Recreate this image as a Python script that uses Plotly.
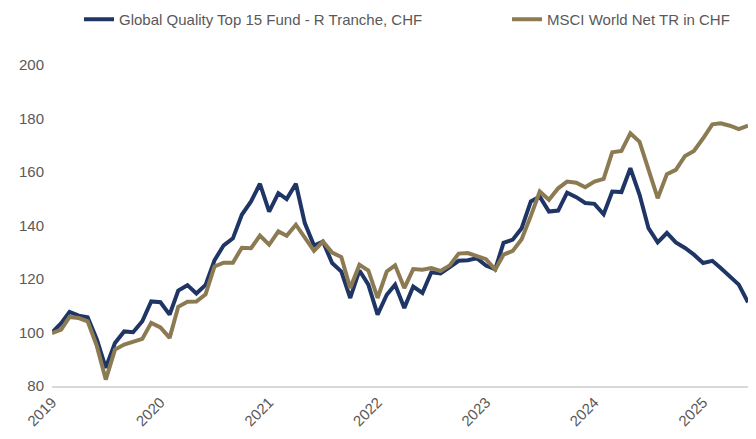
import plotly.graph_objects as go
import pandas as pd

dates = pd.date_range("2019-01-01", periods=78, freq="MS")

fund = [100, 103.5, 107.7, 106.3, 105.7, 97.4, 86.8, 96.1, 100.4, 100.1,
        104.2, 111.6, 111.3, 106.7, 115.7, 117.7, 114.6, 117.8, 127.0, 132.6,
        135.2, 144.0, 149.0, 155.6, 145.2, 152.1, 149.9, 155.6, 140.9, 132.5,
        134.0, 126.0, 122.8, 112.9, 123.2, 117.9, 106.7, 114.1, 117.9, 109.2,
        117.2, 114.8, 122.5, 122.1, 124.4, 126.8, 127.0, 127.8, 125.0, 123.6,
        133.5, 134.7, 139.0, 149.0, 150.8, 145.2, 145.6, 152.3, 150.6, 148.4,
        148.1, 144.2, 152.7, 152.5, 161.4, 151.5, 139.0, 133.7, 137.2, 133.7,
        131.6, 129.1, 126.0, 126.8, 124.1, 121.0, 117.9, 111.3]

msci = [99.8, 101.1, 105.8, 105.4, 104.2, 94.9, 82.4, 93.6, 95.5, 96.7,
        97.6, 103.6, 101.9, 98.0, 109.6, 111.5, 111.6, 114.3, 124.7, 126.1,
        126.1, 131.7, 131.5, 136.2, 132.8, 137.8, 136.2, 140.3, 135.3, 130.5,
        134.0, 129.9, 128.2, 116.6, 125.3, 123.2, 112.9, 122.8, 125.1, 116.6,
        123.7, 123.5, 124.1, 123.0, 125.1, 129.5, 129.7, 128.7, 127.4, 123.5,
        129.1, 130.5, 134.9, 143.6, 152.7, 149.6, 153.9, 156.4, 156.0, 154.3,
        156.4, 157.4, 167.4, 167.9, 174.5, 171.3, 160.7, 150.2, 159.2, 160.8,
        166.0, 167.9, 172.6, 177.8, 178.2, 177.3, 176.0, 177.3]

year_ticks = ["2019-01-01", "2020-01-01", "2021-01-01", "2022-01-01",
              "2023-01-01", "2024-01-01", "2025-01-01"]
year_labels = ["2019", "2020", "2021", "2022", "2023", "2024", "2025"]
y_ticks = [80, 100, 120, 140, 160, 180, 200]

names = ["Global Quality Top 15 Fund - R Tranche, CHF", "MSCI World Net TR in CHF"]
colors = ["#1F3566", "#8C7B52"]

FONT = "Liberation Sans, Arial, sans-serif"
TXT = "#595959"
FS = 15

fig = go.Figure()
fig.add_trace(go.Scatter(x=dates, y=fund, mode="lines", name=names[0],
                         line=dict(color=colors[0], width=4), legend="legend",
                         cliponaxis=False))
fig.add_trace(go.Scatter(x=dates, y=msci, mode="lines", name=names[1],
                         line=dict(color=colors[1], width=4), legend="legend2",
                         cliponaxis=False))

leg = dict(orientation="h", xref="container", yref="container",
           y=1 - 11.5 / 439, yanchor="middle", xanchor="left",
           font=dict(family=FONT, size=FS, color=TXT), bgcolor="rgba(0,0,0,0)")

fig.update_layout(
    width=756, height=439,
    showlegend=True,
    margin=dict(l=44, r=16, t=57, b=60.5, autoexpand=False),
    paper_bgcolor="white", plot_bgcolor="white",
    font=dict(family=FONT, size=FS, color=TXT),
    legend=dict(leg, x=71 / 756),
    legend2=dict(leg, x=499 / 756),
    xaxis=dict(type="date", range=["2019-01-01", "2025-06-01"],
               tickvals=year_ticks, ticktext=year_labels, tickangle=-45,
               showgrid=False, zeroline=False, showline=True, automargin=False,
               linecolor="#D9D9D9", linewidth=1.5, ticks="",
               tickfont=dict(family=FONT, size=FS, color=TXT)),
    yaxis=dict(range=[80, 200], tickvals=y_ticks, showgrid=False, zeroline=False,
               showline=False, ticks="", ticklabelstandoff=7, automargin=False,
               tickfont=dict(family=FONT, size=FS, color=TXT)),
)

fig.write_html("out.html")
